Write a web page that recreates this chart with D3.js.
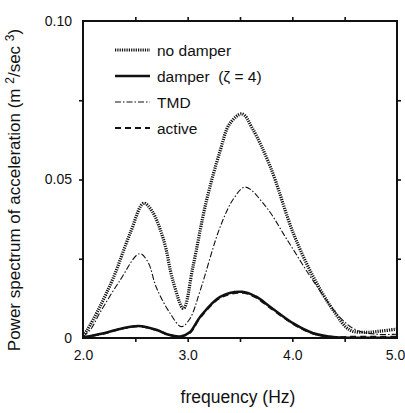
<!DOCTYPE html>
<html lang="en">
<head>
  <meta charset="UTF-8">
  <title>Power spectrum of acceleration</title>
  <script src="https://d3js.org/d3.v7.min.js"></script>
  <style>
    body { margin: 0; background: #fff; }
    svg { display: block; font-family: 'Liberation Sans', Arial, sans-serif; }
  </style>
</head>
<body>
  <svg width="405" height="413"></svg>
  <script>
    const width = 405, height = 413;
    const margin = { top: 21, right: 8, bottom: 75, left: 83 };

    // data: [frequency Hz, power]
    const noDamper = [[2.0,0.0008],[2.04,0.0025],[2.16,0.0098],[2.29,0.019],[2.45,0.033],[2.58,0.0425],[2.66,0.040],
      [2.77,0.031],[2.86,0.018],[2.96,0.0093],[3.05,0.0224],[3.18,0.0434],[3.31,0.059],[3.40,0.0675],[3.52,0.0707],
      [3.62,0.066],[3.79,0.054],[4.01,0.033],[4.2,0.0193],[4.39,0.0088],[4.55,0.0025],[4.7,0.0018],[4.85,0.0022],[5.0,0.0028]];
    const damper = [[2.0,0.0002],[2.2,0.0015],[2.38,0.0031],[2.53,0.0038],[2.7,0.0026],[2.82,0.001],[2.93,0.0005],
      [3.02,0.0018],[3.12,0.0067],[3.31,0.013],[3.52,0.0146],[3.65,0.0131],[3.79,0.0098],[4.01,0.0046],[4.2,0.0015],
      [4.39,0.0003],[4.6,0.0001],[5.0,0.0001]];
    const tmd = [[2.0,0.0003],[2.08,0.003],[2.16,0.0079],[2.35,0.018],[2.54,0.0266],[2.62,0.024],[2.70,0.016],
      [2.83,0.0079],[2.94,0.0036],[3.02,0.006],[3.12,0.015],[3.31,0.035],[3.44,0.044],[3.55,0.0476],[3.75,0.0413],
      [3.95,0.031],[4.2,0.018],[4.45,0.0067],[4.61,0.0025],[4.8,0.0012],[5.0,0.0012]];
    const active = [[2.0,0.0002],[2.2,0.0014],[2.38,0.003],[2.53,0.0037],[2.7,0.0025],[2.82,0.001],[2.93,0.0004],
      [3.02,0.0016],[3.12,0.0064],[3.31,0.0127],[3.52,0.0143],[3.65,0.0128],[3.79,0.0095],[4.01,0.0044],[4.2,0.0014],
      [4.39,0.0003],[4.6,0.0004],[5.0,0.0004]];

    const xTicks = [2.0, 3.0, 4.0, 5.0];
    const xMinor = [2.5, 3.0, 3.5, 4.0, 4.5];
    const yTicks = [0, 0.05, 0.10];
    const yMinor = [0.025, 0.05, 0.075];

    const series = [
      { name: "no damper", data: noDamper, width: 3.2, dash: "1.2,1.1" },
      { name: "damper\u00A0\u00A0(\u03B6 = 4)", data: damper, width: 2.5, dash: null },
      { name: "TMD", data: tmd, width: 1.1, dash: "6,2,1.5,2" },
      { name: "active", data: active, width: 2, dash: "6,4" }
    ];

    const svg = d3.select("svg");
    const iw = width - margin.left - margin.right;
    const ih = height - margin.top - margin.bottom;
    const g = svg.append("g").attr("transform", `translate(${margin.left},${margin.top})`);

    const x = d3.scaleLinear().domain([2, 5]).range([0, iw]);
    const y = d3.scaleLinear().domain([0, 0.1]).range([ih, 0]);

    // frame
    g.append("rect")
      .attr("width", iw).attr("height", ih)
      .attr("fill", "none").attr("stroke", "#111").attr("stroke-width", 2);

    // inward ticks on all four sides
    g.append("g").call(d3.axisTop(x).tickValues(xMinor).tickSize(-4).tickFormat(""))
      .attr("transform", `translate(0,${ih})`).call(a => a.select(".domain").remove());
    g.append("g").call(d3.axisBottom(x).tickValues(xMinor).tickSize(-4).tickFormat(""))
      .call(a => a.select(".domain").remove());
    g.append("g").call(d3.axisRight(y).tickValues(yMinor).tickSize(-4).tickFormat(""))
      .call(a => a.select(".domain").remove());
    g.append("g").call(d3.axisLeft(y).tickValues(yMinor).tickSize(-4).tickFormat(""))
      .attr("transform", `translate(${iw},0)`).call(a => a.select(".domain").remove());
    g.selectAll(".tick line").attr("stroke", "#111").attr("stroke-width", 1.6);

    // tick labels
    g.append("g").attr("transform", `translate(0,${ih})`)
      .call(d3.axisBottom(x).tickValues(xTicks).tickSize(0).tickPadding(12).tickFormat(d3.format(".1f")))
      .call(a => a.select(".domain").remove())
      .selectAll("text").attr("font-size", 14).attr("fill", "#111")
      .attr("dx", d => d === 5 ? -2 : 0);
    g.append("g")
      .call(d3.axisLeft(y).tickValues(yTicks).tickSize(0).tickPadding(11)
        .tickFormat(d => d === 0 ? "0" : d3.format(".2f")(d)))
      .call(a => a.select(".domain").remove())
      .selectAll("text").attr("font-size", 14).attr("fill", "#111");

    // curves
    const line = d3.line().x(d => x(d[0])).y(d => y(d[1])).curve(d3.curveCatmullRom.alpha(0.5));
    series.forEach(s => {
      g.append("path").datum(s.data)
        .attr("d", line)
        .attr("fill", "none")
        .attr("stroke", "#111")
        .attr("stroke-width", s.width)
        .attr("stroke-dasharray", s.dash);
    });

    // legend
    const leg = g.append("g").attr("transform", "translate(32,29)");
    series.forEach((s, i) => {
      const row = leg.append("g").attr("transform", `translate(0,${i * 26})`);
      row.append("line").attr("x1", 0).attr("x2", 35).attr("y1", 0).attr("y2", 0)
        .attr("stroke", "#111").attr("stroke-width", s.width).attr("stroke-dasharray", s.dash);
      row.append("text").attr("x", 42).attr("y", 5.5).attr("font-size", 15.5).attr("fill", "#111").text(s.name);
    });

    // axis titles
    svg.append("text")
      .attr("x", margin.left + iw / 2 - 2).attr("y", 403)
      .attr("text-anchor", "middle").attr("font-size", 17.5).attr("fill", "#111")
      .text("frequency (Hz)");

    const yt = svg.append("text")
      .attr("transform", `translate(20,${190}) rotate(-90)`)
      .attr("text-anchor", "middle").attr("font-size", 17).attr("fill", "#111");
    yt.append("tspan").text("Power spectrum of acceleration (m ");
    yt.append("tspan").attr("font-size", 12).attr("dy", -6).text("2");
    yt.append("tspan").attr("dy", 6).text("/sec ");
    yt.append("tspan").attr("font-size", 12).attr("dy", -6).text("3");
    yt.append("tspan").attr("dy", 6).text(")");
  </script>
</body>
</html>
